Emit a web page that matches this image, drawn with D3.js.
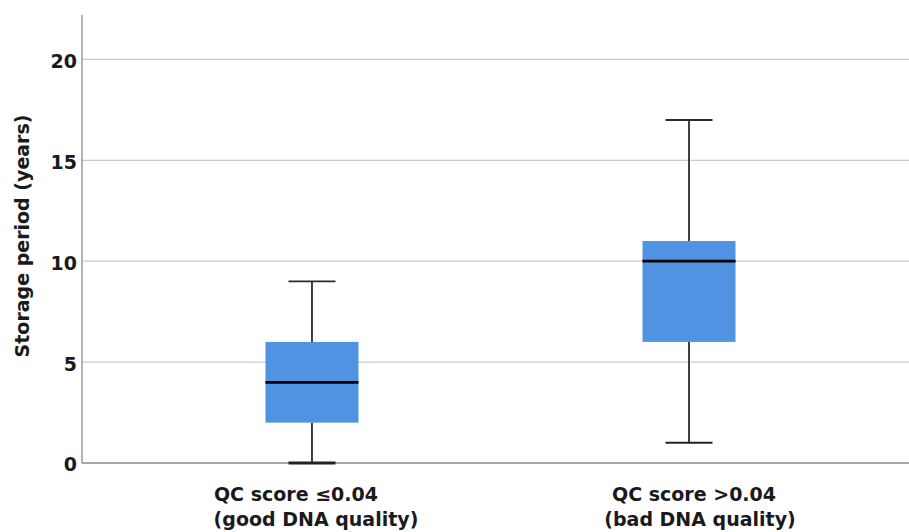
<!DOCTYPE html>
<html><head><meta charset="utf-8">
<script src="https://cdn.jsdelivr.net/npm/d3@7"></script>
<style>body{margin:0;background:#fff}svg{display:block}text{font-family:"DejaVu Sans",Verdana,sans-serif;font-weight:bold;fill:#1a1a1a}</style>
</head><body>
<svg id="c" width="909" height="532"></svg>
<script>
const categories = ["good", "bad"];
const labelLine1 = ["QC score \u22640.04", "QC score >0.04"];
const labelLine2 = ["(good DNA quality)", "(bad DNA quality)"];
const mins    = [0, 1];
const q1s     = [2, 6];
const medians = [4, 10];
const q3s     = [6, 11];
const maxs    = [9, 17];
const yTicks  = [0, 5, 10, 15, 20];

const svg = d3.select("#c");
const mLeft = 82, mRight = 909, mTop = 15, mBottom = 463;
const y = d3.scaleLinear().domain([0, 22.2]).range([mBottom, mTop]);
const x = d3.scalePoint().domain(categories).range([mLeft, 919]).padding(0.61);
const boxW = 93, capW = 47;

// grid
svg.append("g").selectAll("line").data(yTicks.filter(d => d > 0)).join("line")
  .attr("x1", mLeft).attr("x2", mRight).attr("y1", d => y(d)).attr("y2", d => y(d))
  .attr("stroke", "#cbcbcb").attr("stroke-width", 1.2);

// axes lines
svg.append("line").attr("x1", mLeft).attr("x2", mLeft).attr("y1", mTop).attr("y2", mBottom)
  .attr("stroke", "#8a8a8a").attr("stroke-width", 1.3);
svg.append("line").attr("x1", mLeft).attr("x2", mRight).attr("y1", mBottom).attr("y2", mBottom)
  .attr("stroke", "#8a8a8a").attr("stroke-width", 1.3);

// y tick labels via axis
const ya = svg.append("g").attr("transform", `translate(${mLeft},0)`)
  .call(d3.axisLeft(y).tickValues(yTicks).tickSize(0).tickPadding(6).tickFormat(d3.format("d")));
ya.select(".domain").remove();
ya.selectAll("text").attr("font-size", 19).attr("font-family", "DejaVu Sans").attr("font-weight", "bold").attr("fill", "#1a1a1a").attr("dy", "0.42em").attr("x", -5);

// y title
svg.append("text").attr("transform", "translate(29,236) rotate(-90)")
  .attr("text-anchor", "middle").attr("font-size", 19).text("Storage period (years)");

const data = categories.map((c, i) => ({c, min: mins[i], q1: q1s[i], med: medians[i], q3: q3s[i], max: maxs[i]}));
const g = svg.append("g").selectAll("g").data(data).join("g");
// whiskers
g.append("line").attr("x1", d => x(d.c)).attr("x2", d => x(d.c))
  .attr("y1", d => y(d.max)).attr("y2", d => y(d.q3)).attr("stroke", "#2a2a2a").attr("stroke-width", 1.8);
g.append("line").attr("x1", d => x(d.c)).attr("x2", d => x(d.c))
  .attr("y1", d => y(d.q1)).attr("y2", d => y(d.min)).attr("stroke", "#2a2a2a").attr("stroke-width", 1.8);
g.append("line").attr("x1", d => x(d.c) - capW/2).attr("x2", d => x(d.c) + capW/2)
  .attr("y1", d => y(d.max)).attr("y2", d => y(d.max)).attr("stroke", "#2a2a2a").attr("stroke-width", 1.9);
g.append("line").attr("x1", d => x(d.c) - capW/2).attr("x2", d => x(d.c) + capW/2)
  .attr("y1", d => y(d.min)).attr("y2", d => y(d.min)).attr("stroke", "#222").attr("stroke-width", d => d.min === 0 ? 2.8 : 1.9);
// box
g.append("rect").attr("x", d => x(d.c) - boxW/2).attr("width", boxW)
  .attr("y", d => y(d.q3)).attr("height", d => y(d.q1) - y(d.q3)).attr("fill", "#5193e3");
// median
g.append("line").attr("x1", d => x(d.c) - boxW/2).attr("x2", d => x(d.c) + boxW/2)
  .attr("y1", d => y(d.med)).attr("y2", d => y(d.med)).attr("stroke", "#000").attr("stroke-width", 2.8);

// category labels
const dx1 = [-16, 5], dx2 = [4, 11];
svg.append("g").selectAll("text").data(categories).join("text")
  .attr("x", (d, i) => x(d) + dx1[i]).attr("y", 501).attr("text-anchor", "middle")
  .attr("font-size", 19).text((d, i) => labelLine1[i]);
svg.append("g").selectAll("text").data(categories).join("text")
  .attr("x", (d, i) => x(d) + dx2[i]).attr("y", 526).attr("text-anchor", "middle")
  .attr("font-size", 19).text((d, i) => labelLine2[i]);
</script>
</body></html>
